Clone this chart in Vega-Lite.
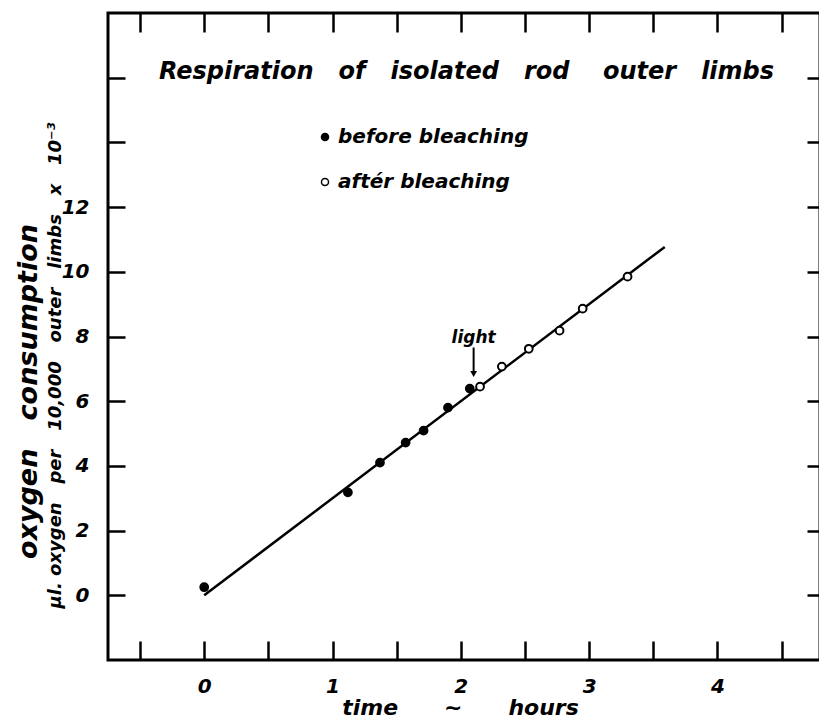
{
  "$schema": "https://vega.github.io/schema/vega-lite/v6.json",
  "width": 712,
  "height": 647,
  "autosize": {"type": "none"},
  "padding": {"left": 108, "top": 13, "right": 0, "bottom": 61},
  "background": "white",
  "config": {
    "font": "DejaVu Sans",
    "view": {"stroke": "black", "strokeWidth": 3},
    "axis": {
      "grid": false,
      "domain": false,
      "tickColor": "black",
      "tickWidth": 2.5,
      "labelColor": "black",
      "labelFont": "DejaVu Sans",
      "labelFontSize": 20,
      "labelFontWeight": "bold",
      "labelFontStyle": "italic",
      "titleColor": "black",
      "titleFont": "DejaVu Sans",
      "titleFontWeight": "bold",
      "titleFontStyle": "italic"
    },
    "legend": {
      "labelFont": "DejaVu Sans",
      "labelFontSize": 20,
      "labelFontWeight": "bold",
      "labelFontStyle": "italic",
      "labelColor": "black",
      "labelLimit": 0
    }
  },
  "datasets": {
    "fit": [
      {"time": 0, "oxygen": 0},
      {"time": 3.59, "oxygen": 10.77}
    ],
    "obs": [
      {"time": 0.0, "oxygen": 0.25, "condition": "before bleaching"},
      {"time": 1.12, "oxygen": 3.18, "condition": "before bleaching"},
      {"time": 1.37, "oxygen": 4.10, "condition": "before bleaching"},
      {"time": 1.57, "oxygen": 4.72, "condition": "before bleaching"},
      {"time": 1.71, "oxygen": 5.09, "condition": "before bleaching"},
      {"time": 1.90, "oxygen": 5.80, "condition": "before bleaching"},
      {"time": 2.07, "oxygen": 6.39, "condition": "before bleaching"},
      {"time": 2.15, "oxygen": 6.45, "condition": "aftér bleaching"},
      {"time": 2.32, "oxygen": 7.07, "condition": "aftér bleaching"},
      {"time": 2.53, "oxygen": 7.62, "condition": "aftér bleaching"},
      {"time": 2.77, "oxygen": 8.18, "condition": "aftér bleaching"},
      {"time": 2.95, "oxygen": 8.86, "condition": "aftér bleaching"},
      {"time": 3.30, "oxygen": 9.85, "condition": "aftér bleaching"}
    ]
  },
  "layer": [
    {
      "data": {"name": "fit"},
      "mark": {"type": "line", "color": "black", "strokeWidth": 2.5},
      "encoding": {
        "x": {
          "field": "time", "type": "quantitative",
          "scale": {"domain": [-0.75, 4.8], "nice": false, "zero": false},
          "axis": {
            "orient": "top",
            "values": [-0.5, 0, 0.5, 1, 1.5, 2, 2.5, 3, 3.5, 4, 4.5],
            "labels": false,
            "tickSize": -19,
            "title": "Respiration\u00a0\u00a0 of\u00a0\u00a0 isolated\u00a0\u00a0 rod\u00a0\u00a0\u00a0 outer\u00a0\u00a0 limbs",
            "titleX": 358,
            "titleY": 65,
            "titleBaseline": "alphabetic",
            "titleAlign": "center",
            "titleFontSize": 24
          }
        },
        "y": {
          "field": "oxygen", "type": "quantitative",
          "scale": {"domain": [-2, 18], "nice": false, "zero": false},
          "axis": {
            "orient": "right",
            "values": [0, 2, 4, 6, 8, 10, 12, 14, 16],
            "labels": false,
            "tickSize": -13,
            "title": "oxygen\u00a0\u00a0 consumption",
            "titleX": -784,
            "titleY": 378,
            "titleAngle": -90,
            "titleBaseline": "alphabetic",
            "titleAlign": "center",
            "titleFontSize": 27
          }
        }
      }
    },
    {
      "data": {"name": "obs"},
      "mark": {"type": "circle", "size": 60, "stroke": "black", "strokeWidth": 2, "opacity": 1},
      "encoding": {
        "x": {
          "field": "time", "type": "quantitative",
          "scale": {"domain": [-0.75, 4.8], "nice": false, "zero": false},
          "axis": {
            "orient": "bottom",
            "values": [-0.5, 0, 0.5, 1, 1.5, 2, 2.5, 3, 3.5, 4, 4.5],
            "labelExpr": "datum.value % 1 === 0 ? format(datum.value, 'd') : ''",
            "tickSize": -19,
            "labelPadding": 35,
            "labelBaseline": "top",
            "title": "time\u00a0\u00a0\u00a0\u00a0\u00a0 ∼\u00a0\u00a0\u00a0\u00a0\u00a0 hours",
            "titleX": 352,
            "titleY": 54,
            "titleBaseline": "alphabetic",
            "titleAlign": "center",
            "titleFontSize": 22
          }
        },
        "y": {
          "field": "oxygen", "type": "quantitative",
          "scale": {"domain": [-2, 18], "nice": false, "zero": false},
          "axis": {
            "orient": "left",
            "values": [0, 2, 4, 6, 8, 10, 12, 14, 16],
            "labelExpr": "datum.value <= 12 ? format(datum.value, 'd') : ''",
            "tickSize": -17,
            "labelPadding": 36,
            "title": "µl. oxygen\u00a0\u00a0 per\u00a0\u00a0 10,000\u00a0\u00a0 outer\u00a0\u00a0 limbs\u00a0\u00a0 x\u00a0\u00a0 10⁻³",
            "titleX": -48,
            "titleY": 352,
            "titleAngle": -90,
            "titleBaseline": "alphabetic",
            "titleAlign": "center",
            "titleFontSize": 18
          }
        },
        "fill": {
          "field": "condition", "type": "nominal",
          "scale": {"domain": ["before bleaching", "aftér bleaching"], "range": ["black", "white"]},
          "legend": {
            "title": null,
            "orient": "none",
            "legendX": 207,
            "legendY": 114,
            "padding": 0,
            "symbolType": "circle",
            "symbolSize": 50,
            "symbolStrokeColor": "black",
            "symbolStrokeWidth": 1.5,
            "labelOffset": 3,
            "rowPadding": 25
          }
        }
      }
    },
    {
      "data": {"values": [{}]},
      "mark": {"type": "text", "font": "DejaVu Sans", "fontSize": 17, "fontWeight": "bold", "fontStyle": "italic", "color": "black", "baseline": "alphabetic", "align": "center"},
      "encoding": {
        "x": {"datum": 2.1, "type": "quantitative", "axis": null},
        "y": {"datum": 7.8, "type": "quantitative", "axis": null},
        "text": {"value": "light"}
      }
    },
    {
      "data": {"values": [{}]},
      "mark": {"type": "rule", "color": "black", "strokeWidth": 2},
      "encoding": {
        "x": {"datum": 2.1, "type": "quantitative", "axis": null},
        "y": {"datum": 7.66, "type": "quantitative", "axis": null},
        "y2": {"datum": 6.9}
      }
    },
    {
      "data": {"values": [{}]},
      "mark": {"type": "point", "shape": "triangle-down", "filled": true, "color": "black", "size": 45, "opacity": 1},
      "encoding": {
        "x": {"datum": 2.1, "type": "quantitative", "axis": null},
        "y": {"datum": 6.84, "type": "quantitative", "axis": null}
      }
    }
  ],
  "resolve": {"axis": {"x": "independent", "y": "independent"}}
}
